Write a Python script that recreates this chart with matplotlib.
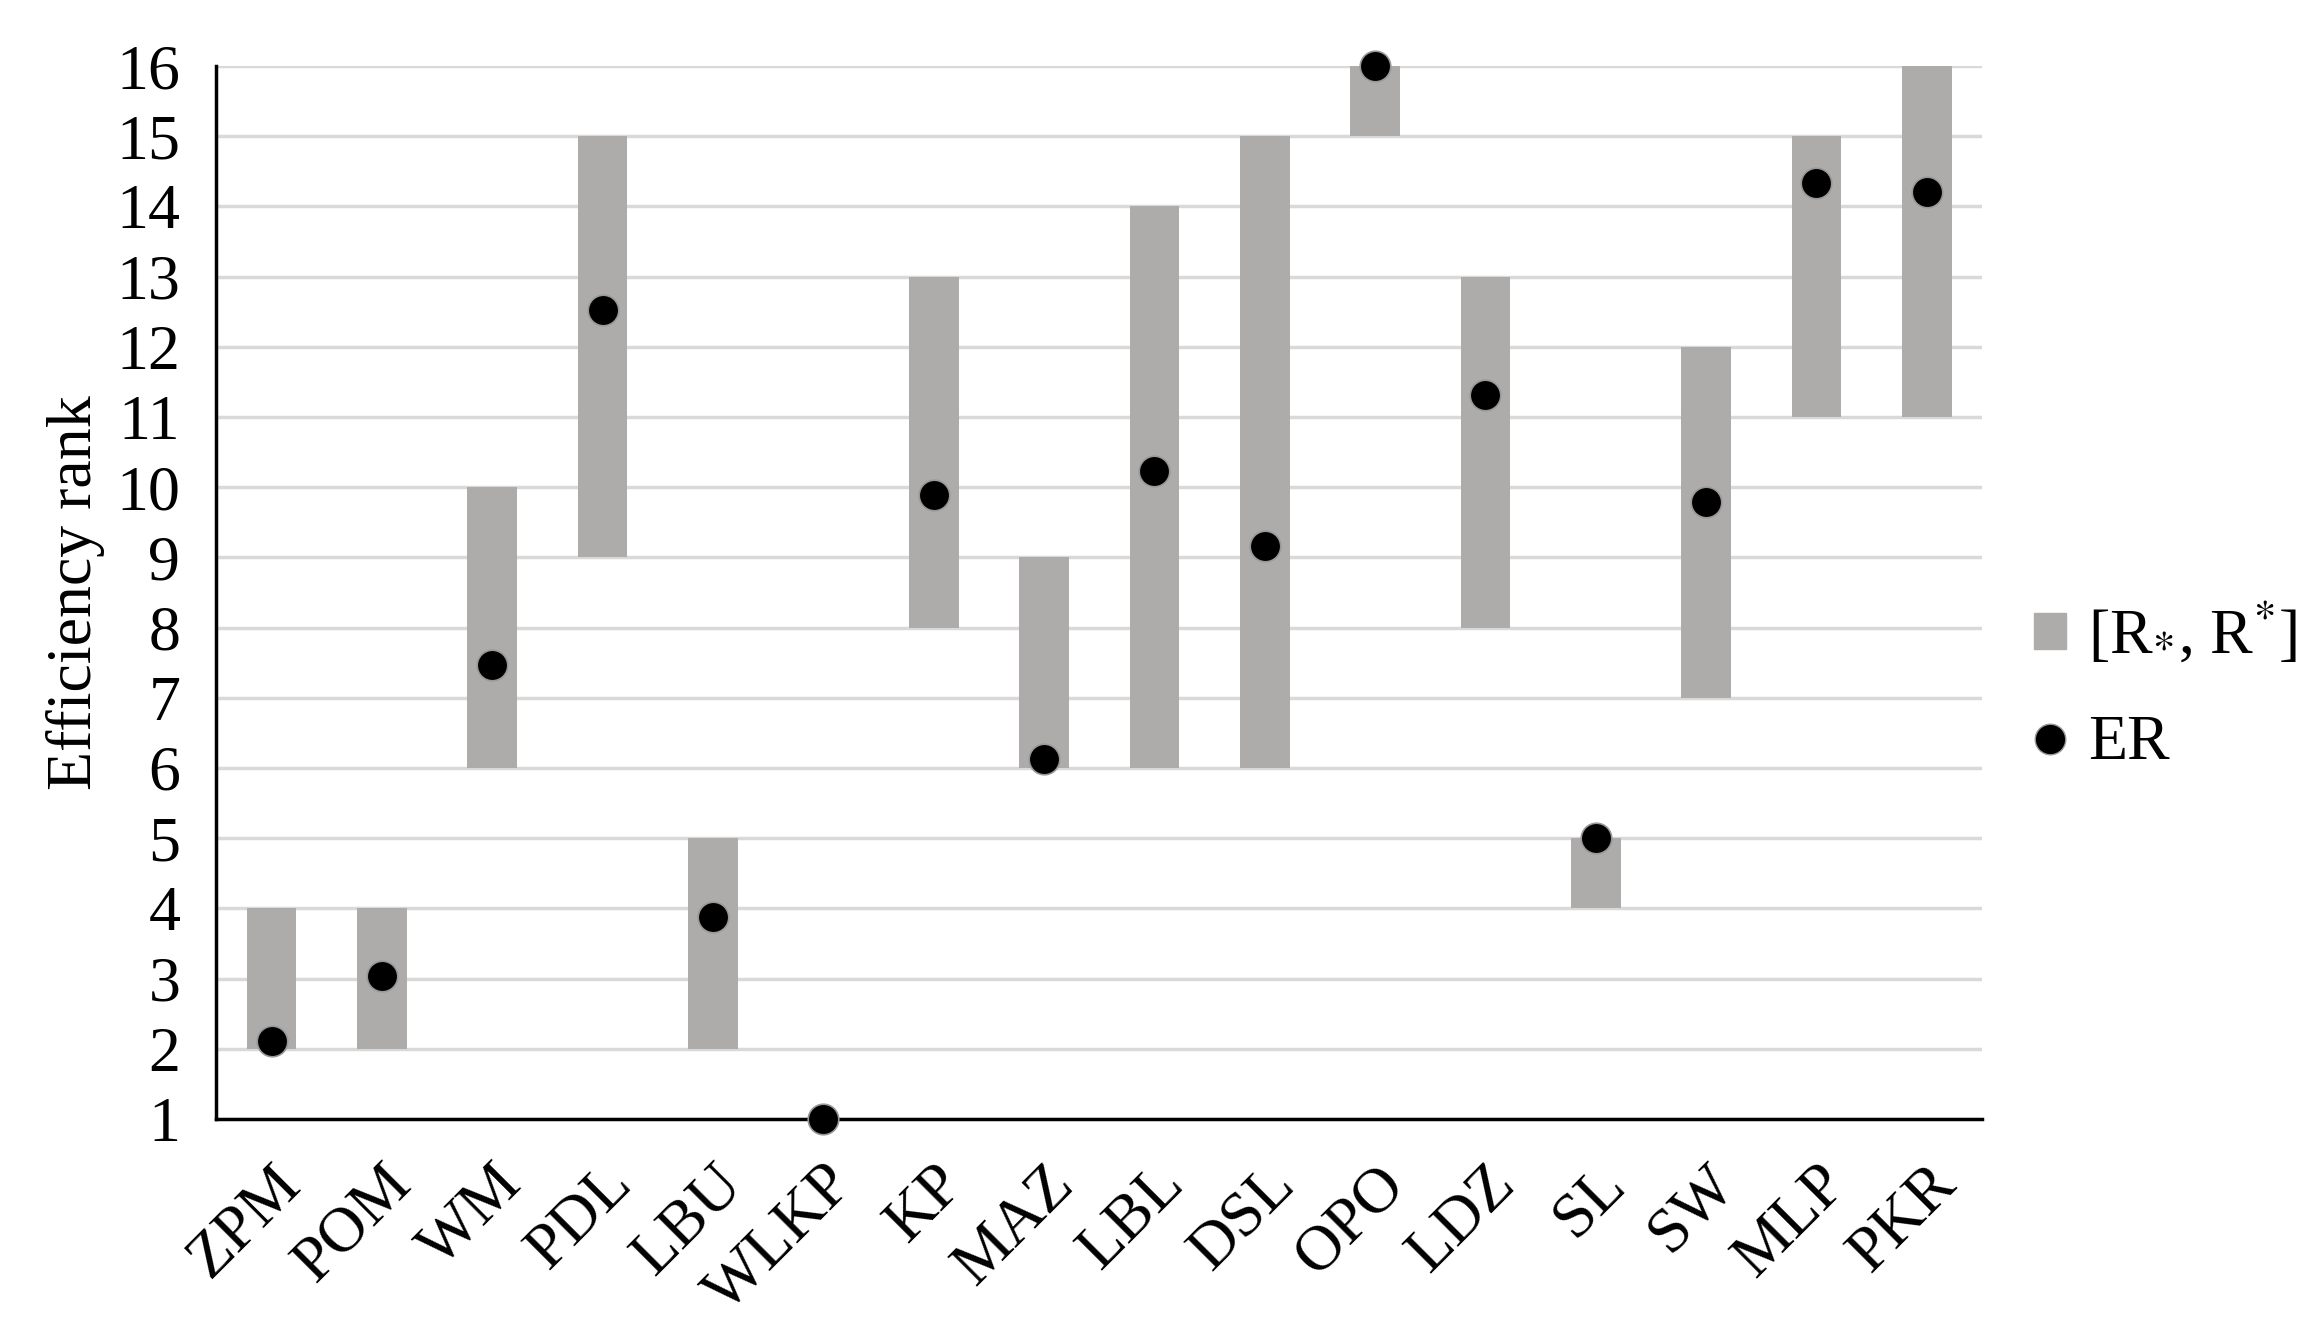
import numpy as np
import matplotlib.pyplot as plt
from matplotlib.lines import Line2D
from matplotlib.patches import Patch

plt.rcParams['font.family'] = ['Liberation Serif', 'DejaVu Serif']
plt.rcParams['mathtext.fontset'] = 'stix'

regions = ['ZPM', 'POM', 'WM', 'PDL', 'LBU', 'WLKP', 'KP', 'MAZ',
           'LBL', 'DSL', 'OPO', 'LDZ', 'SL', 'SW', 'MLP', 'PKR']
# rank intervals [R_*, R^*]
r_low = [2, 2, 6, 9, 2, 1, 8, 6, 6, 6, 15, 8, 4, 7, 11, 11]
r_high = [4, 4, 10, 15, 5, 1, 13, 9, 14, 15, 16, 13, 5, 12, 15, 16]
# expected rank
er = [2.11, 3.04, 7.46, 12.53, 3.87, 1.0, 9.89, 6.13,
      10.23, 9.16, 16.0, 11.31, 5.0, 9.79, 14.34, 14.2]

bar_col = '#aeabab'

fig = plt.figure(figsize=(23.02, 13.21), dpi=100)
ax = fig.add_axes([0.094, 0.153, 0.767, 0.797])

x = np.arange(len(regions)) + 0.5
heights = np.array(r_high) - np.array(r_low)
ax.bar(x, heights, bottom=r_low, width=0.45, color=bar_col, zorder=2)
ax.plot(x, er, 'o', color='black', markersize=22, markeredgecolor='#999999',
        markeredgewidth=1.2, zorder=3, clip_on=False)

ax.set_xlim(0, 16)
ax.set_ylim(1, 16)
ax.set_yticks(range(1, 17))
ax.set_xticks(x)
ax.set_xticklabels(regions, rotation=45, ha='right', va='top',
                   rotation_mode='anchor', fontsize=46)
ax.tick_params(axis='y', labelsize=46, length=0, pad=26)
ax.tick_params(axis='x', length=0, pad=26)
ax.grid(axis='y', color='#d9d9d9', linewidth=2.5, zorder=0)
ax.set_axisbelow(True)
for s in ['top', 'right']:
    ax.spines[s].set_visible(False)
ax.spines['left'].set_linewidth(2.5)
ax.spines['bottom'].set_linewidth(2.5)
ax.spines['bottom'].set_zorder(2.5)
ax.set_ylabel('Efficiency rank', fontsize=46, labelpad=8)

handles = [Patch(color=bar_col),
           Line2D([], [], marker='o', linestyle='', color='black',
                  markersize=22, markeredgecolor='#999999')]
labels = [r'[R$_{*}$, R$^{*}$]', 'ER']
ax.legend(handles, labels, loc='center left', bbox_to_anchor=(1.015, 0.41),
          frameon=False, fontsize=46, handlelength=0.5, handleheight=0.5,
          handletextpad=0.35, labelspacing=0.75, borderaxespad=0)

fig.savefig('out.png', dpi=100)
